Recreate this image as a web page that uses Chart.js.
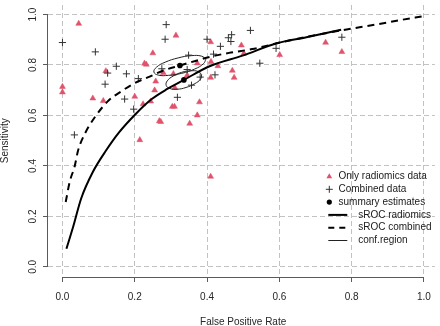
<!DOCTYPE html>
<html>
<head>
<meta charset="utf-8">
<script src="https://cdn.jsdelivr.net/npm/chart.js@4/dist/chart.umd.min.js"></script>
<style>
  html, body { margin: 0; padding: 0; background: #ffffff; }
  #wrap { width: 440px; height: 326px; position: relative; }
</style>
</head>
<body>
<div id="wrap"><canvas id="c" width="440" height="326"></canvas></div>
<script>
// ---------------- data ----------------
const xTickValues = [0, 0.2, 0.4, 0.6, 0.8, 1.0];
const yTickValues = [0, 0.2, 0.4, 0.6, 0.8, 1.0];
const xTickLabels = ['0.0', '0.2', '0.4', '0.6', '0.8', '1.0'];
const yTickLabels = ['0.0', '0.2', '0.4', '0.6', '0.8', '1.0'];
const xTitle = 'False Positive Rate';
const yTitle = 'Sensitivity';

// Only radiomics data: [FPR, sensitivity]
const radiomicsStudies = [
  [0.045,0.964],[0.314,0.917],[0.250,0.847],[0.227,0.806],[0.232,0.802],
  [0.120,0.776],[0.279,0.769],[0.307,0.765],[0.258,0.735],[0.000,0.714],
  [0.000,0.692],[0.084,0.668],[0.113,0.658],[0.200,0.675],[0.255,0.700],
  [0.244,0.656],[0.223,0.645],[0.304,0.635],[0.310,0.635],[0.268,0.578],
  [0.272,0.575],[0.352,0.568],[0.373,0.601],[0.379,0.653],[0.311,0.710],
  [0.345,0.759],[0.373,0.807],[0.410,0.891],[0.411,0.813],[0.410,0.750],
  [0.430,0.796],[0.470,0.778],[0.475,0.750],[0.214,0.503],[0.410,0.358],
  [0.495,0.878],[0.502,0.846],[0.601,0.840],[0.728,0.889],[0.773,0.852]
];

// Combined data: [FPR, sensitivity]
const combinedStudies = [
  [0.287,0.960],[0.284,0.902],[0.000,0.889],[0.091,0.852],[0.149,0.795],
  [0.125,0.768],[0.177,0.765],[0.118,0.724],[0.210,0.746],[0.172,0.665],
  [0.197,0.625],[0.033,0.523],[0.349,0.839],[0.275,0.785],[0.345,0.782],
  [0.381,0.752],[0.357,0.720],[0.318,0.672],[0.400,0.902],[0.418,0.843],
  [0.437,0.874],[0.459,0.908],[0.468,0.920],[0.466,0.893],[0.520,0.937],
  [0.591,0.866],[0.546,0.807],[0.422,0.761],[0.773,0.910]
];

// summary estimates [FPR, sensitivity]
const summaryRadiomics = [0.336, 0.741];
const summaryCombined = [0.325, 0.798];

// sROC curves
const srocRadiomics = [
  [0.011,0.072],[0.029,0.156],[0.052,0.272],[0.084,0.376],[0.120,0.460],
  [0.156,0.532],[0.202,0.605],[0.247,0.665],[0.290,0.705],[0.336,0.741],
  [0.407,0.795],[0.498,0.837],[0.593,0.886],[0.675,0.910],[0.771,0.940]
];
const srocCombined = [
  [0.009,0.257],[0.020,0.337],[0.034,0.400],[0.043,0.460],[0.061,0.525],
  [0.093,0.600],[0.129,0.661],[0.161,0.694],[0.197,0.726],[0.243,0.755],
  [0.279,0.778],[0.325,0.798],[0.370,0.817],[0.407,0.832],[0.461,0.848],
  [0.525,0.863],[0.602,0.889],[0.684,0.914],[0.775,0.938],[0.866,0.960],
  [0.939,0.979],[0.994,0.992]
];

// confidence regions (outline points read around each ellipse)
const confCombined = [
  [0.397,0.823],[0.390,0.805],[0.366,0.784],[0.330,0.767],[0.293,0.759],
  [0.265,0.760],[0.253,0.772],[0.260,0.791],[0.284,0.811],[0.320,0.828],
  [0.357,0.837],[0.385,0.835],[0.397,0.823]
];
const confRadiomics = [
  [0.385,0.762],[0.382,0.744],[0.366,0.726],[0.342,0.711],[0.317,0.704],
  [0.297,0.707],[0.287,0.719],[0.290,0.737],[0.306,0.756],[0.330,0.771],
  [0.355,0.777],[0.376,0.774],[0.385,0.762]
];

const legendLabels = ['Only radiomics data', 'Combined data', 'summary estimates',
                      'sROC radiomics', 'sROC combined', 'conf.region'];

// ---------------- styles ----------------
const RED = '#DF536B';
const INK = '#1a1a1a';
const AXIS = '#5a5a5a';
const GRID = '#c2c2c2';
const FONT = "'Liberation Sans', Arial, Helvetica, sans-serif";

const toXY = arr => arr.map(p => ({ x: p[0], y: p[1] }));

const rStyle = {
  id: 'rStyle',
  afterDraw(chart) {
    const { ctx, chartArea: ca, scales: { x, y } } = chart;
    ctx.save();
    // R-style axis lines spanning first..last tick
    ctx.strokeStyle = AXIS;
    ctx.lineWidth = 1;
    ctx.beginPath();
    const yb = Math.round(ca.bottom) + 0.5;
    ctx.moveTo(x.getPixelForValue(xTickValues[0]), yb);
    ctx.lineTo(x.getPixelForValue(xTickValues[xTickValues.length - 1]), yb);
    const xl = Math.round(ca.left) - 0.5;
    ctx.moveTo(xl, y.getPixelForValue(yTickValues[0]));
    ctx.lineTo(xl, y.getPixelForValue(yTickValues[yTickValues.length - 1]));
    ctx.stroke();

    // y tick labels (rotated, like R's default)
    ctx.fillStyle = '#262626';
    ctx.font = '10px ' + FONT;
    ctx.textAlign = 'center';
    ctx.textBaseline = 'alphabetic';
    yTickValues.forEach((v, i) => {
      ctx.save();
      ctx.translate(35.5, y.getPixelForValue(v));
      ctx.rotate(-Math.PI / 2);
      ctx.fillText(yTickLabels[i], 0, 0);
      ctx.restore();
    });
    // axis titles
    ctx.save();
    ctx.translate(8, y.getPixelForValue(0.5));
    ctx.rotate(-Math.PI / 2);
    ctx.fillText(yTitle, 0, 0);
    ctx.restore();
    ctx.fillText(xTitle, x.getPixelForValue(0.5), 324.5);

    // legend
    const lx = 329.3, t1 = 338.5, t2 = 358.2, l0 = 328.3, l1 = 347.3;
    const rows = [176.5, 189.3, 202.1, 214.9, 227.7, 240.5];
    ctx.textAlign = 'left';
    ctx.textBaseline = 'middle';
    ctx.fillStyle = INK;
    // triangle
    ctx.fillStyle = RED;
    ctx.beginPath();
    ctx.moveTo(lx, rows[0] - 3.3);
    ctx.lineTo(lx + 2.9, rows[0] + 1.7);
    ctx.lineTo(lx - 2.9, rows[0] + 1.7);
    ctx.closePath();
    ctx.fill();
    // plus
    ctx.strokeStyle = '#333';
    ctx.lineWidth = 1;
    ctx.beginPath();
    ctx.moveTo(lx - 3.5, rows[1]); ctx.lineTo(lx + 3.5, rows[1]);
    ctx.moveTo(lx, rows[1] - 3.5); ctx.lineTo(lx, rows[1] + 3.5);
    ctx.stroke();
    // dot
    ctx.fillStyle = '#000';
    ctx.beginPath();
    ctx.arc(lx, rows[2], 2.6, 0, Math.PI * 2);
    ctx.fill();
    // lines
    ctx.strokeStyle = '#000';
    ctx.lineWidth = 2;
    ctx.beginPath(); ctx.moveTo(l0, rows[3]); ctx.lineTo(l1, rows[3]); ctx.stroke();
    ctx.setLineDash([6, 5]);
    ctx.beginPath(); ctx.moveTo(l0, rows[4]); ctx.lineTo(l1 + 2, rows[4]); ctx.stroke();
    ctx.setLineDash([]);
    ctx.lineWidth = 1;
    ctx.strokeStyle = '#222';
    ctx.beginPath(); ctx.moveTo(l0, rows[5]); ctx.lineTo(l1, rows[5]); ctx.stroke();

    ctx.fillStyle = INK;
    legendLabels.forEach((t, i) => {
      ctx.fillText(t, i < 3 ? t1 : t2, rows[i]);
    });
    ctx.restore();
  }
};

const gridCfg = {
  color: GRID,
  lineWidth: 1,
  drawOnChartArea: true,
  drawTicks: true,
  tickLength: 5,
  tickColor: AXIS,
  tickWidth: 1
};

new Chart(document.getElementById('c'), {
  type: 'scatter',
  data: {
    datasets: [
      {
        label: 'summary estimates',
        data: toXY([summaryCombined, summaryRadiomics]),
        pointStyle: 'circle', pointRadius: 2.8, pointBackgroundColor: '#000',
        pointBorderColor: '#000', pointBorderWidth: 0, showLine: false
      },
      {
        label: 'sROC radiomics',
        data: toXY(srocRadiomics),
        showLine: true, borderColor: '#000', borderWidth: 2, pointRadius: 0,
        cubicInterpolationMode: 'monotone', fill: false
      },
      {
        label: 'sROC combined',
        data: toXY(srocCombined),
        showLine: true, borderColor: '#000', borderWidth: 2, pointRadius: 0,
        borderDash: [7, 5], cubicInterpolationMode: 'monotone', fill: false
      },
      {
        label: 'conf.region combined',
        data: toXY(confCombined),
        showLine: true, borderColor: '#222', borderWidth: 1, pointRadius: 0,
        tension: 0.45, fill: false
      },
      {
        label: 'conf.region radiomics',
        data: toXY(confRadiomics),
        showLine: true, borderColor: '#222', borderWidth: 1, pointRadius: 0,
        tension: 0.45, fill: false
      },
      {
        label: 'Combined data',
        data: toXY(combinedStudies),
        pointStyle: 'cross', pointRadius: 3.6, pointBorderColor: '#333',
        pointBorderWidth: 1, showLine: false
      },
      {
        label: 'Only radiomics data',
        data: toXY(radiomicsStudies),
        pointStyle: 'triangle', pointRadius: 3.4, pointBackgroundColor: RED,
        pointBorderColor: RED, pointBorderWidth: 0.5, showLine: false
      }
    ]
  },
  options: {
    responsive: false,
    animation: false,
    devicePixelRatio: 1,
    layout: { padding: 0 },
    plugins: { legend: { display: false }, tooltip: { enabled: false }, title: { display: false } },
    scales: {
      x: {
        type: 'linear', position: 'bottom', min: -0.04, max: 1.0303,
        afterBuildTicks: s => { s.ticks = xTickValues.map(v => ({ value: v })); },
        afterFit: s => { s.height = 49; },
        grid: gridCfg,
        border: { display: false, dash: [5, 3] },
        ticks: {
          padding: 9, color: '#262626', maxRotation: 0, autoSkip: false,
          font: { family: FONT, size: 10 },
          callback: (v) => { const i = xTickValues.indexOf(v); return i >= 0 ? xTickLabels[i] : ''; }
        }
      },
      y: {
        type: 'linear', position: 'left', min: -0.04, max: 1.0377,
        afterBuildTicks: s => { s.ticks = yTickValues.map(v => ({ value: v })); },
        afterFit: s => { s.width = 48; },
        grid: gridCfg,
        border: { display: false, dash: [5, 3] },
        ticks: { display: false }
      }
    }
  },
  plugins: [rStyle]
});
</script>
</body>
</html>
